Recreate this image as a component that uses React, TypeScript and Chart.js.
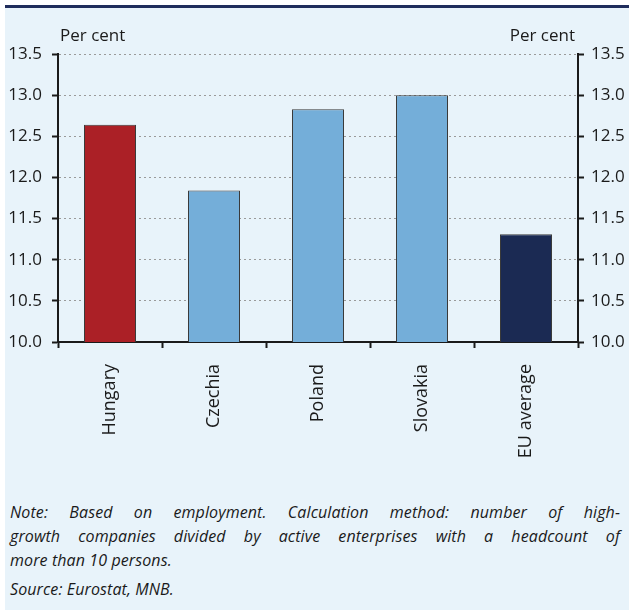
import React, { useEffect, useRef } from "react";
import { Chart, registerables } from "chart.js";

Chart.register(...registerables);

const categories = ["Hungary", "Czechia", "Poland", "Slovakia", "EU average"];
const values = [12.64, 11.84, 12.83, 13.0, 11.31];
const barColors = ["#ab2026", "#74aed9", "#74aed9", "#74aed9", "#1b2a53"];
const yTicks = [10.0, 10.5, 11.0, 11.5, 12.0, 12.5, 13.0, 13.5];
const unitLabel = "Per cent";
const noteLines = [
  "Note: Based on employment. Calculation method: number of high-",
  "growth companies divided by active enterprises with a headcount of",
  "more than 10 persons.",
];
const sourceText = "Source: Eurostat, MNB.";

const FONT = "'Open Sans', 'Noto Sans', sans-serif";
const TEXT = "#1a1a1a";
const AXIS = "#1a1a1a";

const unitPlugin = {
  id: "unitLabels",
  afterDraw(chart: any) {
    const { ctx, chartArea } = chart;
    ctx.save();
    ctx.font = `17px ${FONT}`;
    ctx.fillStyle = TEXT;
    ctx.textBaseline = "middle";
    ctx.textAlign = "left";
    ctx.fillText(unitLabel, chartArea.left + 2, chartArea.top - 18);
    ctx.textAlign = "right";
    ctx.fillText(unitLabel, chartArea.right - 3, chartArea.top - 18);
    ctx.restore();
  },
};

export default function App() {
  const ref = useRef<HTMLCanvasElement | null>(null);

  useEffect(() => {
    if (!ref.current) return;
    const setTicks = (s: any) => {
      s.ticks = yTicks.map((v) => ({ value: v }));
    };
    const chart = new Chart(ref.current, {
      type: "bar",
      data: {
        labels: categories,
        datasets: [
          {
            data: values,
            backgroundColor: barColors,
            borderColor: "#3a3a3a",
            borderWidth: 1,
            barPercentage: 0.5,
            categoryPercentage: 1,
          },
        ],
      },
      options: {
        animation: false,
        responsive: false,
        devicePixelRatio: 1,
        layout: { padding: { top: 44, left: 0, right: 0, bottom: 0 } },
        plugins: { legend: { display: false }, tooltip: { enabled: false } },
        scales: {
          x: {
            position: "bottom",
            afterFit: (s: any) => {
              s.height = 138;
            },
            grid: {
              offset: true,
              drawOnChartArea: false,
              tickLength: 6,
              tickColor: AXIS,
              tickWidth: 2,
            },
            border: { color: AXIS, width: 2 },
            ticks: {
              minRotation: 90,
              maxRotation: 90,
              padding: 16,
              color: TEXT,
              font: { family: FONT, size: 18 },
            },
          },
          y: {
            position: "left",
            min: 10,
            max: 13.5,
            afterBuildTicks: setTicks,
            afterFit: (s: any) => {
              s.width = 53;
            },
            grid: {
              color: "#9a9a9a",
              lineWidth: 1,
              tickLength: 6,
              tickColor: AXIS,
              tickWidth: 2,
              tickBorderDash: [],
            },
            border: { color: AXIS, width: 2, dash: [2, 3] },
            ticks: {
              padding: 10,
              color: TEXT,
              font: { family: FONT, size: 17 },
              callback: (v: any) => Number(v).toFixed(1),
            },
          },
          y2: {
            position: "right",
            min: 10,
            max: 13.5,
            afterBuildTicks: setTicks,
            afterFit: (s: any) => {
              s.width = 51;
            },
            grid: {
              drawOnChartArea: false,
              tickLength: 6,
              tickColor: AXIS,
              tickWidth: 2,
            },
            border: { color: AXIS, width: 2 },
            ticks: {
              padding: 7,
              color: TEXT,
              font: { family: FONT, size: 17 },
              callback: (v: any) => Number(v).toFixed(1),
            },
          },
        },
      },
      plugins: [unitPlugin],
    } as any);
    return () => chart.destroy();
  }, []);

  const lineStyle: React.CSSProperties = {
    textAlign: "justify",
    textAlignLast: "justify" as any,
    height: 24,
    lineHeight: "24px",
  };

  return (
    <div
      style={{
        position: "absolute",
        left: 0,
        top: 0,
        width: 629,
        height: 610,
        overflow: "hidden",
        background: "#ffffff",
      }}
    >
      <div
        style={{
          position: "absolute",
          left: 5,
          top: 8,
          right: 0,
          bottom: 0,
          background: "#e8f3fa",
        }}
      />
      <div
        style={{
          position: "absolute",
          left: 5,
          top: 5,
          right: 0,
          height: 3,
          background: "#1f2d5c",
        }}
      />
      <canvas
        ref={ref}
        width={624}
        height={470}
        style={{ position: "absolute", left: 5, top: 10, display: "block" }}
      />
      <div
        style={{
          position: "absolute",
          left: 10,
          top: 500,
          width: 610,
          fontFamily: FONT,
          fontStyle: "italic",
          fontSize: 16,
          letterSpacing: "0.1px",
          color: TEXT,
        }}
      >
        <div style={lineStyle}>{noteLines[0]}</div>
        <div style={lineStyle}>{noteLines[1]}</div>
        <div style={{ height: 24, lineHeight: "24px" }}>{noteLines[2]}</div>
        <div style={{ height: 24, lineHeight: "24px", marginTop: 5 }}>{sourceText}</div>
      </div>
    </div>
  );
}
